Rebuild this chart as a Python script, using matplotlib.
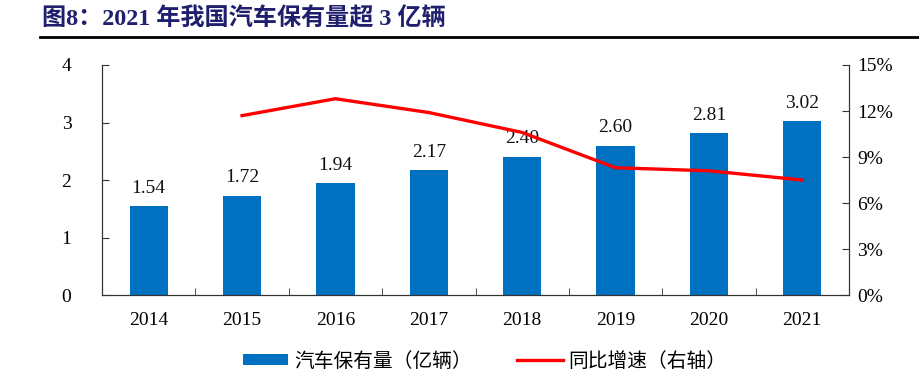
import numpy as np
import matplotlib.pyplot as plt
from matplotlib.lines import Line2D
from matplotlib.patches import Patch
from matplotlib.ticker import FixedLocator

plt.rcParams['font.family'] = ['Liberation Serif', 'Noto Sans CJK SC', 'DejaVu Sans']

years = ['2014', '2015', '2016', '2017', '2018', '2019', '2020', '2021']
stock = [1.54, 1.72, 1.94, 2.17, 2.40, 2.60, 2.81, 3.02]
growth = [None, 11.7, 12.8, 11.9, 10.6, 8.3, 8.1, 7.5]

bar_color = '#0070C0'
line_color = '#FF0000'
title_color = '#1F1F6E'

fig = plt.figure(figsize=(9.2, 3.79), dpi=100)
ax = fig.add_axes([0.1109, 0.2216, 0.8119, 0.6069])

x = np.arange(len(years))
bars = ax.bar(x, stock, width=0.41, color=bar_color, zorder=2)
for xi, v in zip(x, stock):
    ax.annotate(f'{v:.2f}', (xi, v), xytext=(0, 7), textcoords='offset points',
                ha='center', va='bottom', fontsize=14, color='#111111')

ax.set_xlim(-0.5, len(years) - 0.5)
ax.set_ylim(0, 4)
ax.set_yticks([0, 1, 2, 3, 4])
ax.set_xticks(x)
ax.set_xticklabels(years)
ax.xaxis.set_minor_locator(FixedLocator(np.arange(0.5, len(years) - 1, 1.0)))
ax.tick_params(axis='x', which='major', length=0, pad=12, labelsize=14)
ax.tick_params(axis='x', which='minor', direction='in', length=5, color='#333333')
ax.tick_params(axis='y', direction='in', length=5, pad=22, labelsize=14, color='#333333')
ax.spines['top'].set_visible(False)
for s in ['left', 'right', 'bottom']:
    ax.spines[s].set_color('#333333')

ax2 = ax.twinx()
gx = [xi for xi, g in zip(x, growth) if g is not None]
gy = [g for g in growth if g is not None]
ax2.plot(gx, gy, color=line_color, lw=2.4, zorder=3)
ax2.set_ylim(0, 15)
ax2.set_yticks([0, 3, 6, 9, 12, 15])
ax2.set_yticklabels([f'{t}%' for t in [0, 3, 6, 9, 12, 15]])
ax2.tick_params(axis='y', direction='in', length=5, pad=6, labelsize=14, color='#333333')
ax2.spines['top'].set_visible(False)
for s in ['left', 'right', 'bottom']:
    ax2.spines[s].set_color('#333333')

# title and rule under it
fig.text(0.046, 0.950, '图8：2021 年我国汽车保有量超 3 亿辆', fontsize=17.4,
         fontweight='bold', color=title_color, va='center', ha='left')
fig.add_artist(Line2D([0.0435, 1.0], [0.903, 0.903], color='black', lw=2))

handles = [Patch(facecolor=bar_color, edgecolor='none'),
           Line2D([], [], color=line_color, lw=2.4)]
labels = ['汽车保有量（亿辆）', '同比增速（右轴）']
fig.legend(handles, labels, loc='center', bbox_to_anchor=(0.527, 0.047), ncol=2,
           frameon=False, prop={'family': 'Noto Sans CJK SC', 'size': 14.2},
           handlelength=2.3, handleheight=0.5, columnspacing=2.3, handletextpad=0.3)

fig.savefig('out.png', dpi=100)
